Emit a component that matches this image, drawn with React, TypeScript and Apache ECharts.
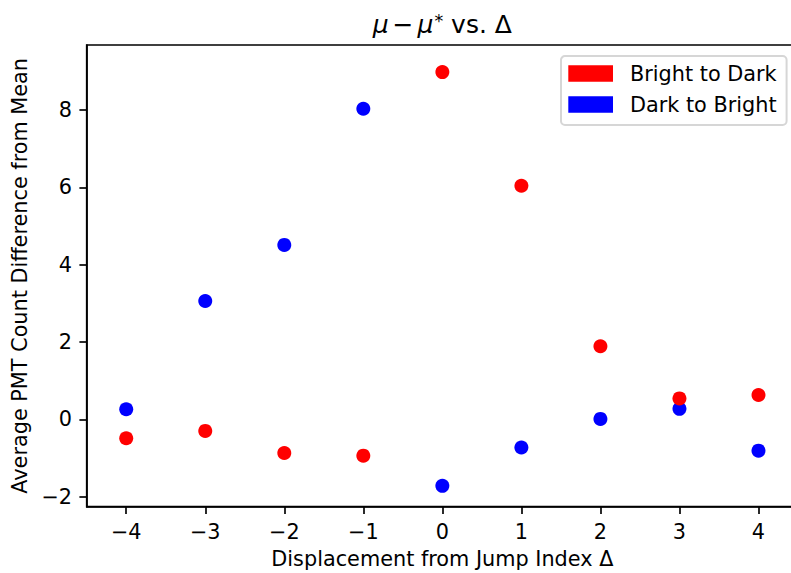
import React, { useEffect, useRef } from "react";
import * as echarts from "echarts";

const xValues = [-4, -3, -2, -1, 0, 1, 2, 3, 4];
const brightToDark = [-0.49, -0.3, -0.87, -0.94, 8.98, 6.04, 1.89, 0.54, 0.63];
const darkToBright = [0.26, 3.06, 4.51, 8.03, -1.72, -0.73, 0.01, 0.27, -0.81];
const xTicks = [-4, -3, -2, -1, 0, 1, 2, 3, 4];
const yTicks = [-2, 0, 2, 4, 6, 8];
const seriesNames = ["Bright to Dark", "Dark to Bright"];
const xLabel = "Displacement from Jump Index Δ";
const yLabel = "Average PMT Count Difference from Mean";

const FONT = "DejaVu Sans";
const fmt = (v: number) => String(v).replace("-", "\u2212");

export default function App() {
  const ref = useRef<HTMLDivElement>(null);
  useEffect(() => {
    if (!ref.current) return;
    const chart = echarts.init(ref.current, null, { renderer: "svg" });
    const lw = 1.67;
    const axisCommon = {
      type: "value" as const,
      splitLine: { show: false },
      axisLine: { show: true, onZero: false, lineStyle: { color: "#000", width: lw } },
      nameLocation: "middle" as const,
      nameTextStyle: { fontFamily: FONT, fontSize: 20.8, color: "#000" },
    };
    chart.setOption({
      animation: false,
      backgroundColor: "#fff",
      grid: {
        left: 86.7,
        top: 45,
        width: 711.3,
        height: 461.7,
        containLabel: false,
        outerBoundsMode: "none",
        show: true,
        borderColor: "#000",
        borderWidth: lw,
        backgroundColor: "transparent",
      },
      graphic: [
        {
          type: "text",
          x: 442.3,
          y: 24,
          style: {
            text: "{i|μ}{op|−}{i|μ}{sup|*} vs. Δ",
            align: "center",
            verticalAlign: "middle",
            fontFamily: FONT,
            fontSize: 25,
            fill: "#000",
            rich: {
              i: { fontStyle: "italic", fontFamily: FONT, fontSize: 25 },
              op: { fontFamily: FONT, fontSize: 25, padding: [0, 4, 0, 4] },
              sup: { fontSize: 17.5, fontFamily: FONT, verticalAlign: "top", padding: [0, 0, 4, 1] },
            },
          },
        },
      ],
      legend: {
        data: seriesNames.map((n) => ({ name: n, icon: "rect" })),
        orient: "vertical",
        left: 561,
        top: 56,
        itemWidth: 44.7,
        itemHeight: 16.7,
        itemGap: 10,
        padding: [7, 10, 10, 7.3],
        backgroundColor: "rgba(255,255,255,0.8)",
        borderColor: "#d6d6d6",
        borderWidth: 2,
        borderRadius: 4,
        textStyle: { fontFamily: FONT, fontSize: 20.8, color: "#000", padding: [0, 0, 0, 12] },
      },
      xAxis: {
        ...axisCommon,
        min: -4.5,
        max: 4.5,
        position: "bottom",
        name: xLabel,
        nameGap: 42,
        axisTick: { show: true, length: 7.3, lineStyle: { color: "#000", width: lw }, customValues: xTicks },
        axisLabel: {
          customValues: xTicks,
          formatter: (v: number) => fmt(v),
          margin: 14.6,
          fontFamily: FONT,
          fontSize: 20.8,
          color: "#000",
        },
      },
      yAxis: {
        ...axisCommon,
        min: -2.26,
        max: 9.68,
        position: "left",
        name: yLabel,
        nameGap: 53,
        axisTick: { show: true, length: 7.3, lineStyle: { color: "#000", width: lw }, customValues: yTicks },
        axisLabel: {
          customValues: yTicks,
          formatter: (v: number) => fmt(v),
          margin: 14.6,
          fontFamily: FONT,
          fontSize: 20.8,
          color: "#000",
        },
      },
      series: [
        {
          name: seriesNames[1],
          type: "scatter",
          symbol: "circle",
          symbolSize: 14,
          itemStyle: { color: "#0000ff", opacity: 1 },
          data: xValues.map((x, i) => [x, darkToBright[i]]),
        },
        {
          name: seriesNames[0],
          type: "scatter",
          symbol: "circle",
          symbolSize: 14,
          itemStyle: { color: "#ff0000", opacity: 1 },
          data: xValues.map((x, i) => [x, brightToDark[i]]),
        },
      ],
    });
    return () => chart.dispose();
  }, []);
  return (
    <div
      ref={ref}
      style={{ position: "fixed", left: 0, top: 0, width: 791, height: 573, background: "#fff" }}
    />
  );
}
